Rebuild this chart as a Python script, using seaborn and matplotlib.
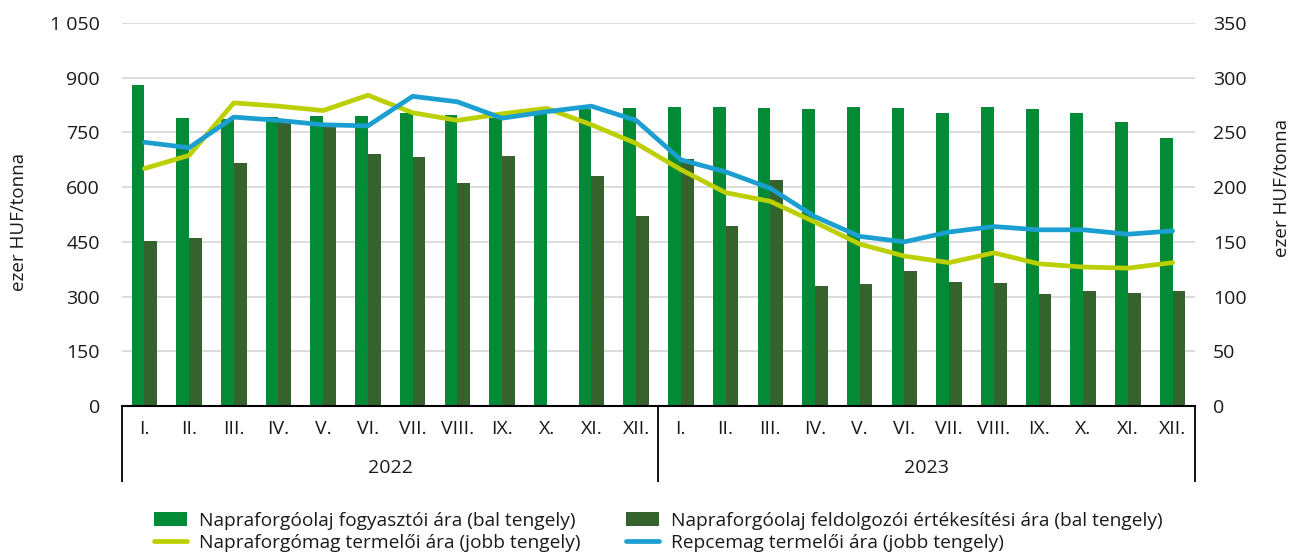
import matplotlib
matplotlib.use('Agg')
import matplotlib.pyplot as plt
import numpy as np
import pandas as pd
import seaborn as sns

# Data (ezer HUF/tonna)
months = ['I.', 'II.', 'III.', 'IV.', 'V.', 'VI.', 'VII.', 'VIII.', 'IX.', 'X.', 'XI.', 'XII.']
years = ['2022', '2023']

olaj_fogyasztoi = [880, 790, 788, 791, 796, 796, 802, 799, 789, 802, 813, 816,
                   820, 819, 816, 814, 819, 816, 803, 819, 813, 803, 778, 735]
olaj_feldolgozoi = [452, 460, 666, 780, 766, 692, 682, 612, 686, np.nan, 630, 520,
                    677, 494, 619, 330, 334, 370, 339, 337, 306, 315, 311, 315]
napraforgomag = [217, 229, 277, 274, 270, 284, 268, 261, 267, 272, 257, 240,
                 216, 195, 187, 168, 148, 137, 131, 140, 130, 127, 126, 131]
repcemag = [241, 236, 264, 261, 257, 256, 283, 278, 263, 269, 274, 261,
            225, 214, 199, 173, 155, 150, 159, 164, 161, 161, 157, 160]

bar_names = ['Napraforgóolaj fogyasztói ára (bal tengely)',
             'Napraforgóolaj feldolgozói értékesítési ára (bal tengely)']
line_names = ['Napraforgómag termelői ára (jobb tengely)',
              'Repcemag termelői ára (jobb tengely)']

periods = [y + ' ' + m for y in years for m in months]

bars_df = pd.DataFrame({
    'period': periods * 2,
    'value': olaj_fogyasztoi + olaj_feldolgozoi,
    'series': [bar_names[0]] * 24 + [bar_names[1]] * 24,
})
lines_df = pd.DataFrame({
    'pos': list(range(24)) * 2,
    'value': napraforgomag + repcemag,
    'series': [line_names[0]] * 24 + [line_names[1]] * 24,
})

bar_colors = {bar_names[0]: '#028A37', bar_names[1]: '#36622E'}
line_colors = {line_names[0]: '#BCCF00', line_names[1]: '#1A9FD0'}

sns.set_style('white')
plt.rcParams['font.family'] = ['Open Sans', 'DejaVu Sans']
text_color = '#1A1A1A'

fig = plt.figure(figsize=(13.01, 5.54), dpi=100)
ax = fig.add_axes([122 / 1301, 1 - 406 / 554, 1073 / 1301, 383 / 554])

sns.barplot(data=bars_df, x='period', y='value', hue='series', order=periods,
            hue_order=bar_names, palette=bar_colors, width=0.57, saturation=1,
            errorbar=None, linewidth=0, ax=ax)

ax2 = ax.twinx()
sns.lineplot(data=lines_df, x='pos', y='value', hue='series', hue_order=line_names,
             palette=line_colors, linewidth=3.4, sort=False, ax=ax2)

# left axis
ax.set_xlim(-0.5, 23.5)
ax.set_ylim(0, 1050)
ax.set_yticks(np.arange(0, 1051, 150))
ax.set_yticklabels([f'{v:,}'.replace(',', ' ') for v in range(0, 1051, 150)])
ax.grid(axis='y', color='#D9D9D9', linewidth=1.3)
ax.grid(axis='x', visible=False)
ax.set_axisbelow(True)
ax.tick_params(axis='y', length=0, pad=16, labelsize=14, labelcolor=text_color)
ax.set_ylabel('ezer HUF/tonna', fontsize=13.5, color=text_color)
ax.yaxis.set_label_coords(-0.088, 0.48)
ax.set_xlabel('')

# right axis
ax2.set_ylim(0, 350)
ax2.set_yticks(np.arange(0, 351, 50))
ax2.tick_params(axis='y', length=0, pad=13, labelsize=14, labelcolor=text_color)
ax2.set_ylabel('ezer HUF/tonna', fontsize=13.5, color=text_color)
ax2.yaxis.set_label_coords(1.073, 0.57)
ax2.set_xlabel('')

for a in (ax, ax2):
    for s in a.spines.values():
        s.set_visible(False)
ax.spines['bottom'].set_visible(True)
ax.spines['bottom'].set_color('black')
ax.spines['bottom'].set_linewidth(1.5)

# months row
ax.set_xticks(range(24))
ax.set_xticklabels(months * 2, fontsize=14, color=text_color)
ax.set_xticks(np.arange(-0.5, 24, 1), minor=True)
ax.tick_params(axis='x', which='major', length=0, pad=10)
ax.tick_params(axis='x', which='minor', length=30, width=1.3, color='black', direction='out')

# years row
sec = ax.secondary_xaxis('bottom')
sec.set_xticks([5.5, 17.5])
sec.set_xticklabels(years, fontsize=14, color=text_color)
sec.set_xticks([-0.5, 11.5, 23.5], minor=True)
sec.tick_params(axis='x', which='major', length=0, pad=38)
sec.tick_params(axis='x', which='minor', length=55, width=1.3, color='black', direction='out')
sec.spines['bottom'].set_visible(False)

# legend
h1, l1 = ax.get_legend_handles_labels()
h2, l2 = ax2.get_legend_handles_labels()
ax.get_legend().remove()
ax2.get_legend().remove()
handles = [h1[0], h2[0], h1[1], h2[1]]
labels = [l1[0], l2[0], l1[1], l2[1]]
fig.legend(handles, labels, loc='center', bbox_to_anchor=(0.506, 0.04), ncol=2,
           frameon=False, prop={'size': 13.8},
           handlelength=1.72, handleheight=0.75, handletextpad=0.62,
           columnspacing=2.35, labelspacing=0.2, labelcolor=text_color)

fig.savefig('out.png', dpi=100)
